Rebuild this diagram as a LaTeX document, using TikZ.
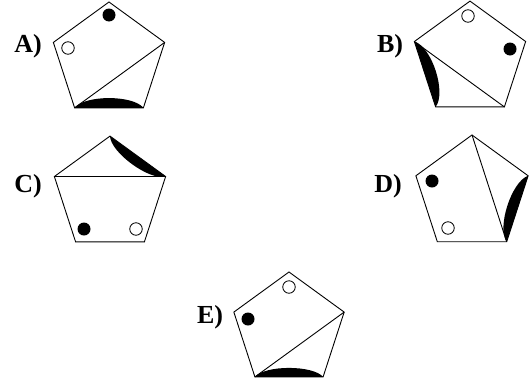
\documentclass[tikz,border=0pt]{standalone}
\usepackage{fontspec}
\setmainfont{Liberation Serif}
\usetikzlibrary{shapes.geometric,calc}
\newcommand\blackseg[3]{\fill (#1) .. controls ($(#1)!0.15!(#2)!#3!90:(#2)$) and ($(#1)!0.85!(#2)!#3!-90:(#1)$) .. (#2) -- cycle;}
\begin{document}
\begin{tikzpicture}[x=1pt,y=-1pt,
 pent/.style={regular polygon, regular polygon sides=5, draw, line width=0.9pt, inner sep=0pt, outer sep=0pt, minimum size=#1},
 lab/.style={font=\fontsize{26}{26}\selectfont\bfseries, anchor=base, inner sep=0pt},
 bdot/.style={circle, fill=black, minimum size=13pt, inner sep=0pt},
 wdot/.style={circle, draw, line width=0.8pt, fill=white, minimum size=12.5pt, inner sep=0pt},
 diag/.style={line width=0.9pt}]
\useasboundingbox (0,0) rectangle (532,383);
% A
\node[lab] (la) at (28,52) {A)};
\node[pent=117pt] (pa) at (109,60.5) {};
\draw[diag] (pa.corner 3) -- (pa.corner 5);
\blackseg{pa.corner 3}{pa.corner 4}{13pt}
\node[bdot] (ba) at (109,15) {};
\node[wdot] (wa) at (68,48) {};
% B
\node[lab] (lb) at (390,52) {B)};
\node[pent=117pt] (pb) at (470,59.6) {};
\draw[diag] (pb.corner 2) -- (pb.corner 4);
\blackseg{pb.corner 2}{pb.corner 3}{15pt}
\node[wdot] (wb) at (468,16) {};
\node[bdot] (bb) at (510,49) {};
% C
\node[lab] (lc) at (28,192) {C)};
\node[pent=117pt] (pc) at (110,194.6) {};
\draw[diag] (pc.corner 2) -- (pc.corner 5);
\blackseg{pc.corner 5}{pc.corner 1}{13pt}
\node[bdot] (bc) at (84,229) {};
\node[wdot] (wc) at (136,229) {};
% D
\node[lab] (ld) at (388,192.5) {D)};
\node[pent=118pt] (pd) at (472,194) {};
\draw[diag] (pd.corner 1) -- (pd.corner 4);
\blackseg{pd.corner 4}{pd.corner 5}{14pt}
\node[bdot] (bd) at (432,181) {};
\node[wdot] (wd) at (448,228) {};
% E
\node[lab] (le) at (210,323) {E)};
\node[pent=116pt] (pe) at (289,330) {};
\draw[diag] (pe.corner 3) -- (pe.corner 5);
\blackseg{pe.corner 3}{pe.corner 4}{12pt}
\node[bdot] (be) at (248,319) {};
\node[wdot] (we) at (289,287) {};
\end{tikzpicture}
\end{document}
